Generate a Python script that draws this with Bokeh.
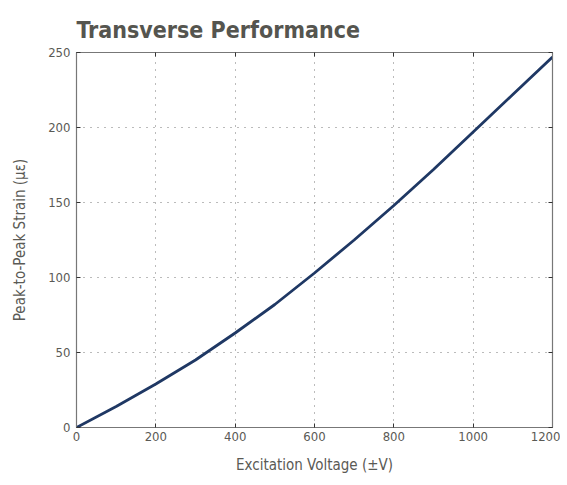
from bokeh.plotting import figure
from bokeh.models import LinearAxis, Range1d, FixedTicker
from bokeh.embed import file_html
from bokeh.resources import INLINE

voltage = [0, 100, 200, 300, 400, 500, 600, 700, 800, 900, 1000, 1100, 1200]
strain = [0, 14, 29, 45, 63, 82, 103, 125, 148, 172, 197, 222, 247]
x_ticks = [0, 200, 400, 600, 800, 1000, 1200]
y_ticks = [0, 50, 100, 150, 200, 250]

FONT = "DejaVu Sans Condensed"
GREY = "#5a5a55"

p = figure(width=560, height=480, output_backend="svg", toolbar_location=None,
           x_range=Range1d(0, 1200), y_range=Range1d(0, 250),
           min_border_left=76, min_border_right=8, min_border_top=52, min_border_bottom=53)

p.title.text = "Transverse Performance"
p.title.text_font = FONT
p.title.text_font_size = "23px"
p.title.text_font_style = "bold"
p.title.text_color = "#55554f"
p.title.align = "left"
p.title.standoff = 20

p.line(voltage, strain, line_color="#1f3864", line_width=2.8)

p.outline_line_color = "#777777"
p.outline_line_width = 1.2

for ax in [p.xaxis[0], p.yaxis[0]]:
    ax.major_tick_in = 4
    ax.major_tick_out = 0
    ax.minor_tick_line_color = None
    ax.axis_line_color = "#777777"
    ax.major_tick_line_color = "#333333"
    ax.major_label_text_font = FONT
    ax.major_label_text_font_size = "13px"
    ax.major_label_text_color = GREY
    ax.axis_label_text_font = FONT
    ax.axis_label_text_font_size = "15px"
    ax.axis_label_text_font_style = "normal"
    ax.axis_label_text_color = GREY

p.xaxis[0].ticker = FixedTicker(ticks=x_ticks)
p.yaxis[0].ticker = FixedTicker(ticks=y_ticks)
p.xaxis[0].axis_label = "Excitation Voltage (±V)"
p.yaxis[0].axis_label = "Peak-to-Peak Strain (με)"
p.xaxis[0].major_label_standoff = 4
p.yaxis[0].major_label_standoff = 6
p.xaxis[0].axis_label_standoff = 12
p.yaxis[0].axis_label_standoff = 16

top = LinearAxis(ticker=FixedTicker(ticks=x_ticks), major_label_text_color=None,
                 major_tick_in=4, major_tick_out=0, minor_tick_line_color=None,
                 axis_line_color="#777777", major_tick_line_color="#333333")
right = LinearAxis(ticker=FixedTicker(ticks=y_ticks), major_label_text_color=None,
                   major_tick_in=4, major_tick_out=0, minor_tick_line_color=None,
                   axis_line_color="#777777", major_tick_line_color="#333333")
p.add_layout(top, "above")
p.add_layout(right, "right")

for g in [p.xgrid[0], p.ygrid[0]]:
    g.grid_line_color = "#777777"
    g.grid_line_dash = "1 6"
    g.grid_line_width = 1
p.xgrid[0].ticker = FixedTicker(ticks=x_ticks)
p.ygrid[0].ticker = FixedTicker(ticks=y_ticks)

open("out.html", "w").write(file_html(p, INLINE))
